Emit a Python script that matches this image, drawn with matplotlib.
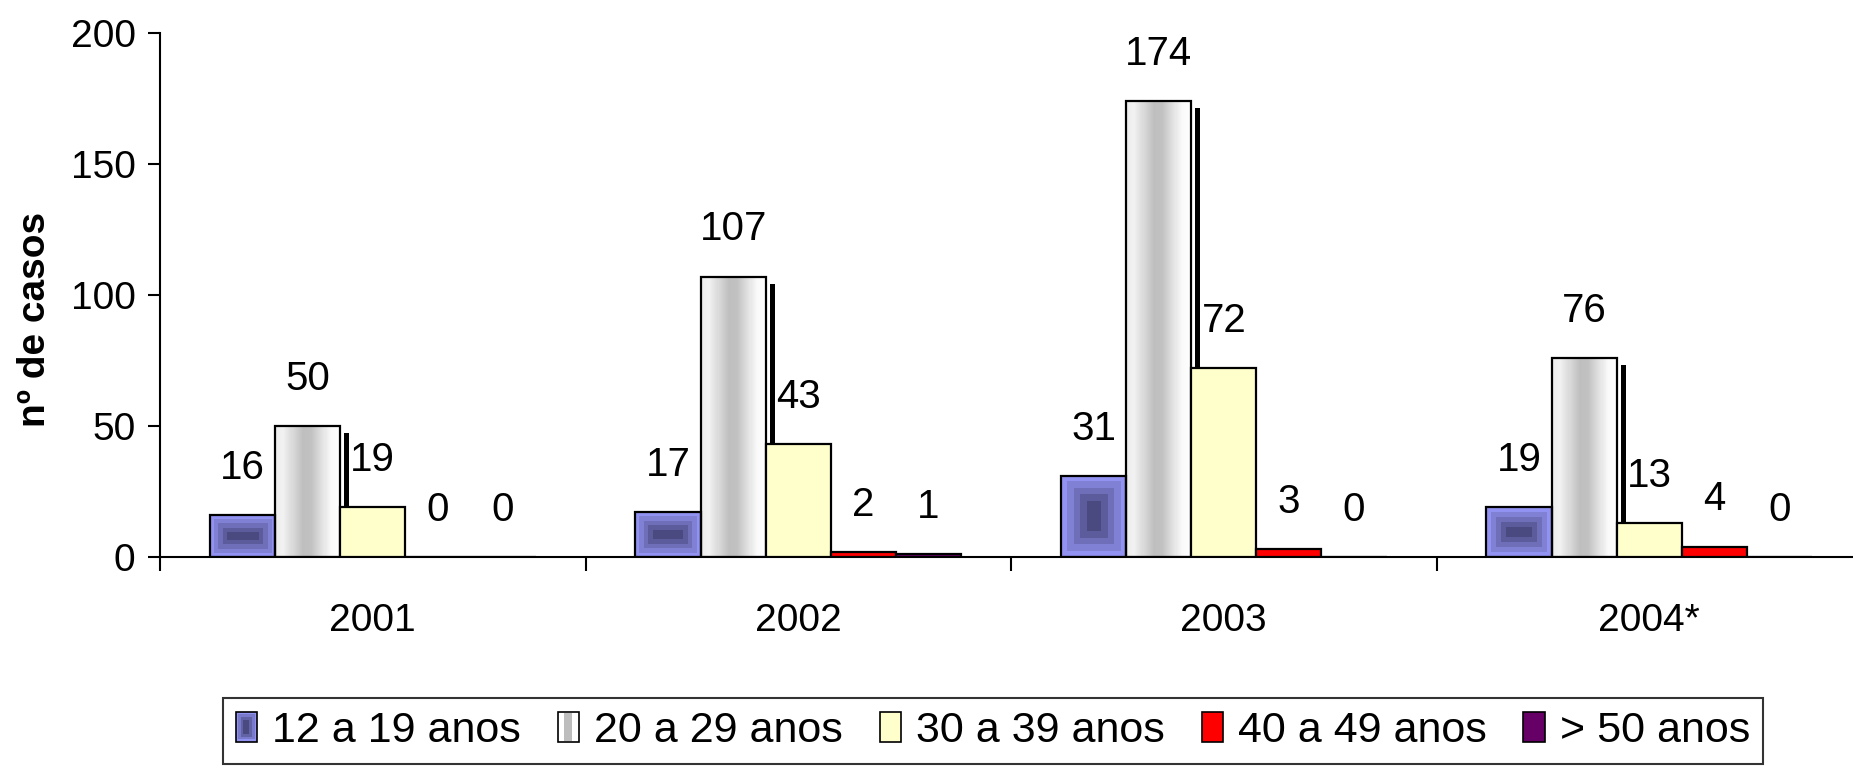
import numpy as np
import matplotlib
matplotlib.use("Agg")
import matplotlib.pyplot as plt
from matplotlib.patches import Rectangle
from matplotlib.legend_handler import HandlerBase

# ---------------------------
# data
# ---------------------------
years = ["2001", "2002", "2003", "2004*"]
age_groups = ["12 a 19 anos", "20 a 29 anos", "30 a 39 anos", "40 a 49 anos", "> 50 anos"]
casos_12_19 = [16, 17, 31, 19]
casos_20_29 = [50, 107, 174, 76]
casos_30_39 = [19, 43, 72, 13]
casos_40_49 = [0, 2, 3, 4]
casos_50_mais = [0, 1, 0, 0]
series = [casos_12_19, casos_20_29, casos_30_39, casos_40_49, casos_50_mais]
yticks = [0, 50, 100, 150, 200]

colors = ["#8f8ff0", "#d8d8d8", "#ffffcc", "#ff0000", "#660066"]
BLUE_OUT = np.array([0x92, 0x92, 0xf2]) / 255
BLUE_IN = np.array([0x4a, 0x4a, 0x80]) / 255

plt.rcParams["font.family"] = ["Liberation Sans", "DejaVu Sans"]

W, H = 1853, 768
fig = plt.figure(figsize=(W / 100, H / 100), dpi=100)
ax = fig.add_axes([160 / W, 1 - 557 / H, 1702 / W, 524 / H])
ax.set_xlim(-0.5, 3.5)
ax.set_ylim(0, 200)

bar_w = 0.153
x = np.arange(len(years))


def px_size(w, h):
    p0 = ax.transData.transform((0, 0))
    p1 = ax.transData.transform((w, h))
    return abs(p1[0] - p0[0]), abs(p1[1] - p0[1])


def box_gradient(w, h):
    wp, hp = px_size(w, h)
    nx, ny = max(int(round(wp)), 2), max(int(round(hp)), 2)
    X, Y = np.meshgrid(np.arange(nx) + 0.5, np.arange(ny) + 0.5)
    d = np.minimum.reduce([X, nx - X, Y, ny - Y]) / (min(nx, ny) / 2)
    d = np.clip(np.floor(d * 5) / 4, 0, 1)
    return BLUE_OUT[None, None, :] * (1 - d[..., None]) + BLUE_IN[None, None, :] * d[..., None]


def gray_gradient():
    t = np.linspace(0, 1, 64)
    g = np.interp(t, [0, 0.12, 0.42, 0.55, 0.85, 1], [0.93, 0.95, 0.75, 0.76, 0.98, 1.0])
    return np.repeat(g[None, :, None], 3, axis=2).repeat(2, axis=0)


for i, vals in enumerate(series):
    xs = x + (i - 2) * bar_w
    face = "none" if i in (0, 1) else colors[i]
    bars = ax.bar(xs, vals, bar_w, facecolor=face, edgecolor="black", linewidth=1.6, zorder=3)
    for b, v in zip(bars, vals):
        if v > 0 and i in (0, 1):
            img = box_gradient(bar_w, v) if i == 0 else gray_gradient()
            im = ax.imshow(img, extent=(b.get_x(), b.get_x() + bar_w, 0, v),
                           aspect="auto", origin="lower", interpolation="nearest", zorder=2.5)
            im.set_clip_path(b)
        if i == 1:
            # thin drop shadow right of the grey bars
            ax.add_patch(Rectangle((b.get_x() + bar_w + 4 / 425.5, 0), 5 / 425.5, v - 7 / 2.62,
                                   facecolor="black", edgecolor="none", zorder=2))
        ax.annotate(str(v), (b.get_x() + bar_w / 2, v), xytext=(0, 34),
                    textcoords="offset points", ha="center", va="center", fontsize=29)

ax.set_xlim(-0.5, 3.5)
ax.set_ylim(0, 200)

for s in ("top", "right"):
    ax.spines[s].set_visible(False)
for s in ("left", "bottom"):
    ax.spines[s].set_linewidth(1.5)

ax.set_yticks(yticks)
ax.tick_params(axis="y", length=8.6, width=1.5, pad=9, labelsize=28)
ax.set_xticks(np.arange(-0.5, 4, 1.0))
ax.set_xticklabels([])
ax.tick_params(axis="x", which="major", length=10, width=1.5)
ax.set_xticks(x, minor=True)
ax.set_xticklabels(years, minor=True)
ax.tick_params(axis="x", which="minor", length=0, pad=33, labelsize=28)

fig.text(35 / W, 1 - 319 / H, "nº de casos", rotation=90, ha="center", va="center",
         fontsize=28, fontweight="bold")


# ---------------------------
# legend with small gradient swatches
# ---------------------------
class SwatchHandler(HandlerBase):
    def __init__(self, kind, color):
        super().__init__()
        self.kind = kind
        self.color = color

    def create_artists(self, legend, orig_handle, xdescent, ydescent, width, height, fontsize, trans):
        x0, y0 = -xdescent, -ydescent
        arts = []
        if self.kind == "box":
            for k in range(4):
                f = k / 3
                c = BLUE_OUT * (1 - f) + BLUE_IN * f
                ins = k * min(width, height) * 0.12
                arts.append(Rectangle((x0 + ins, y0 + ins), width - 2 * ins, height - 2 * ins,
                                      facecolor=c, edgecolor="black" if k == 0 else "none",
                                      linewidth=1.2 if k == 0 else 0, transform=trans))
        elif self.kind == "gray":
            arts.append(Rectangle((x0, y0), width, height, facecolor="white",
                                  edgecolor="black", linewidth=1.2, transform=trans))
            arts.append(Rectangle((x0 + width * 0.3, y0 + 1), width * 0.35, height - 2,
                                  facecolor="#bdbdbd", edgecolor="none", transform=trans))
        else:
            arts.append(Rectangle((x0, y0), width, height, facecolor=self.color,
                                  edgecolor="black", linewidth=1.2, transform=trans))
        return arts


handles = [Rectangle((0, 0), 1, 1) for _ in age_groups]
kinds = ["box", "gray", "solid", "solid", "solid"]
handler_map = {h: SwatchHandler(k, c) for h, k, c in zip(handles, kinds, colors)}
leg = fig.legend(handles, age_groups, handler_map=handler_map, ncol=5, loc="center",
                 bbox_to_anchor=(993 / W, 1 - 731 / H), fontsize=31, frameon=True,
                 fancybox=False, edgecolor="black", handlelength=0.5, handleheight=0.7,
                 handletextpad=0.35, columnspacing=0.85, borderpad=0.3, borderaxespad=0)
leg.get_frame().set_linewidth(1.5)

fig.savefig("out.png", dpi=100)
